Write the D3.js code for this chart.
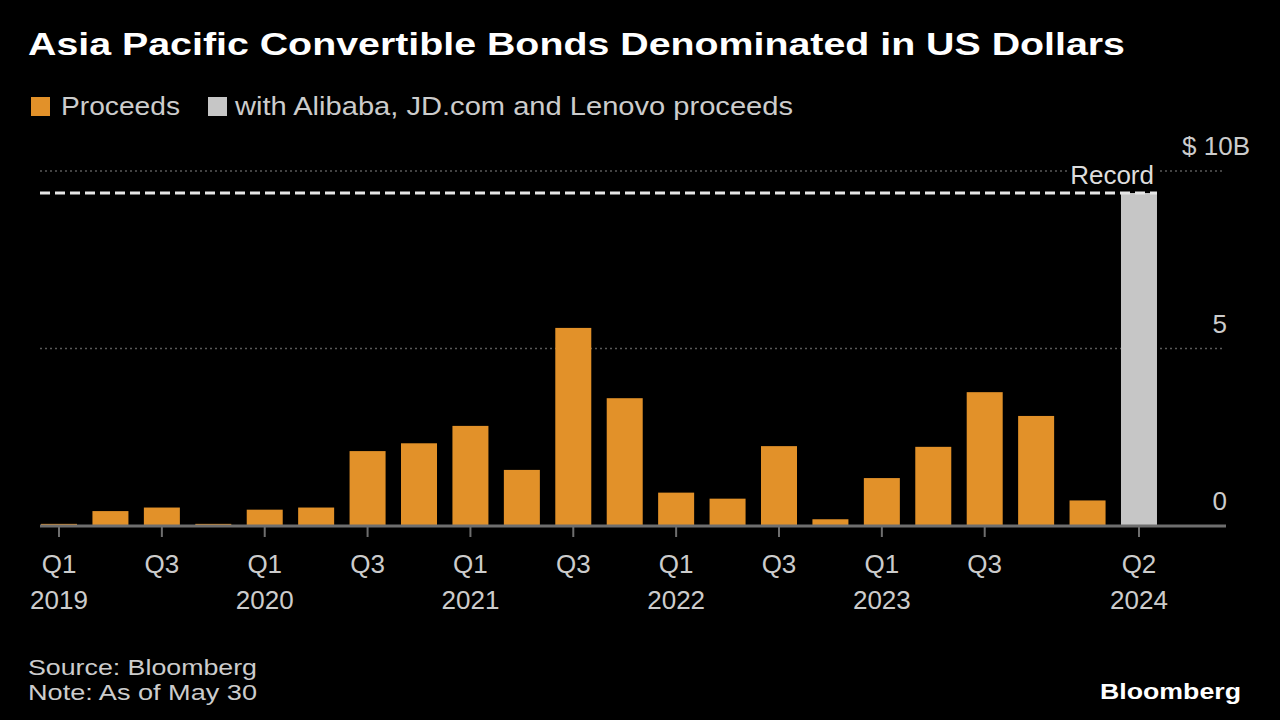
<!DOCTYPE html>
<html><head><meta charset="utf-8">
<script src="https://cdn.jsdelivr.net/npm/d3@7"></script>
<style>html,body{margin:0;padding:0;background:#000;}svg{display:block;}</style>
</head><body>
<svg id="chart" width="1280" height="720"></svg>
<script>
const quarters = ["Q1 2019","Q2 2019","Q3 2019","Q4 2019","Q1 2020","Q2 2020","Q3 2020","Q4 2020","Q1 2021","Q2 2021","Q3 2021","Q4 2021","Q1 2022","Q2 2022","Q3 2022","Q4 2022","Q1 2023","Q2 2023","Q3 2023","Q4 2023","Q1 2024","Q2 2024"];
const proceeds = [0.06,0.42,0.52,0.06,0.46,0.52,2.11,2.33,2.82,1.58,5.58,3.6,0.94,0.77,2.25,0.19,1.35,2.23,3.77,3.1,0.72,null];
const withAlibaba = [null,null,null,null,null,null,null,null,null,null,null,null,null,null,null,null,null,null,null,null,null,9.38];
const recordValue = 9.38;
const yTicks = [0,5,10];
const yTickLabels = ["0","5","$ 10B"];
const xTickQuarters = ["Q1 2019","Q3 2019","Q1 2020","Q3 2020","Q1 2021","Q3 2021","Q1 2022","Q3 2022","Q1 2023","Q3 2023","Q2 2024"];
const xTickTop = ["Q1","Q3","Q1","Q3","Q1","Q3","Q1","Q3","Q1","Q3","Q2"];
const xTickBottom = ["2019","","2020","","2021","","2022","","2023","","2024"];

const ORANGE = "#e29129", GRAY = "#c6c6c6";
const FONT = "'Liberation Sans', Arial, sans-serif";
const svg = d3.select("#chart");
svg.append("rect").attr("width",1280).attr("height",720).attr("fill","#000");

const x = d3.scaleBand().domain(quarters).range([33.3,1164.7]).paddingInner(0.3).paddingOuter(0.15);
const y = d3.scaleLinear().domain([0,10]).range([526,171]);

function fit(sel, w){ sel.each(function(){ const l=this.getComputedTextLength(); if(w && Math.abs(l-w)>1){ d3.select(this).attr("textLength",w).attr("lengthAdjust","spacingAndGlyphs"); } }); return sel; }

// Title
fit(svg.append("text").attr("x",28).attr("y",55).attr("fill","#fff").attr("font-family",FONT).attr("font-weight","bold").attr("font-size",31).text("Asia Pacific Convertible Bonds Denominated in US Dollars"),1097);

// Legend
svg.append("rect").attr("x",31).attr("y",97).attr("width",19).attr("height",19).attr("fill",ORANGE);
fit(svg.append("text").attr("x",61).attr("y",115).attr("fill","#ccc").attr("font-family",FONT).attr("font-size",26).text("Proceeds"),119);
svg.append("rect").attr("x",208).attr("y",97).attr("width",19).attr("height",19).attr("fill",GRAY);
fit(svg.append("text").attr("x",235).attr("y",115).attr("fill","#ccc").attr("font-family",FONT).attr("font-size",26).text("with Alibaba, JD.com and Lenovo proceeds"),558);

// Gridlines
svg.append("g").selectAll("line").data(yTicks.filter(d=>d>0)).join("line")
  .attr("x1",40).attr("x2",1225).attr("y1",d=>y(d)).attr("y2",d=>y(d))
  .attr("stroke","#5a5a5a").attr("stroke-width",1.5).attr("stroke-dasharray","2,3");

// Y labels
svg.append("g").selectAll("text").data(yTicks).join("text")
  .attr("x",(d,i)=> i===2 ? 1250 : 1227).attr("y",d=>y(d)-16)
  .attr("text-anchor","end").attr("fill","#ccc").attr("font-family",FONT).attr("font-size",26)
  .text((d,i)=>yTickLabels[i]);

// Bars
svg.append("g").selectAll("rect").data(quarters.map((q,i)=>({q,v:proceeds[i]})).filter(d=>d.v!=null)).join("rect")
  .attr("x",d=>x(d.q)).attr("width",x.bandwidth()).attr("y",d=>y(d.v)).attr("height",d=>y(0)-y(d.v)).attr("fill",ORANGE);
svg.append("g").selectAll("rect").data(quarters.map((q,i)=>({q,v:withAlibaba[i]})).filter(d=>d.v!=null)).join("rect")
  .attr("x",d=>x(d.q)).attr("width",x.bandwidth()).attr("y",d=>y(d.v)).attr("height",d=>y(0)-y(d.v)).attr("fill",GRAY);

// Baseline
svg.append("line").attr("x1",40).attr("x2",1226).attr("y1",y(0)).attr("y2",y(0)).attr("stroke","#6e6e6e").attr("stroke-width",3);

// X ticks & labels
const cx = q => x(q)+x.bandwidth()/2;
svg.append("g").selectAll("line").data(xTickQuarters).join("line")
  .attr("x1",cx).attr("x2",cx).attr("y1",y(0)+1).attr("y2",y(0)+11).attr("stroke","#6e6e6e").attr("stroke-width",2);
svg.append("g").selectAll("text").data(xTickQuarters).join("text")
  .attr("x",cx).attr("y",573).attr("text-anchor","middle").attr("fill","#ccc").attr("font-family",FONT).attr("font-size",26)
  .text((d,i)=>xTickTop[i]);
svg.append("g").selectAll("text").data(xTickQuarters).join("text")
  .attr("x",cx).attr("y",609).attr("text-anchor","middle").attr("fill","#ccc").attr("font-family",FONT).attr("font-size",26)
  .text((d,i)=>xTickBottom[i]);

// Record line
const lastQ = quarters[quarters.length-1];
svg.append("line").attr("x1",40).attr("x2",x(lastQ)+x.bandwidth()).attr("y1",y(recordValue)).attr("y2",y(recordValue))
  .attr("stroke","#e6e6e6").attr("stroke-width",3).attr("stroke-dasharray","10,5");
const recBg = svg.append("rect").attr("fill","#000");
const rec = svg.append("text").attr("x",1154).attr("y",184).attr("text-anchor","end").attr("fill","#ddd").attr("font-family",FONT).attr("font-size",26).text("Record");
const bb = rec.node().getBBox();
recBg.attr("x",bb.x-3).attr("y",bb.y+4).attr("width",bb.width+6).attr("height",bb.height-10);

// Footer
fit(svg.append("text").attr("x",28).attr("y",675).attr("fill","#ccc").attr("font-family",FONT).attr("font-size",22).text("Source: Bloomberg"),229);
fit(svg.append("text").attr("x",28).attr("y",700).attr("fill","#ccc").attr("font-family",FONT).attr("font-size",22).text("Note: As of May 30"),229);
fit(svg.append("text").attr("x",1241).attr("y",699).attr("text-anchor","end").attr("fill","#fff").attr("font-family",FONT).attr("font-weight","bold").attr("font-size",22).text("Bloomberg"),141);
</script>
</body></html>
